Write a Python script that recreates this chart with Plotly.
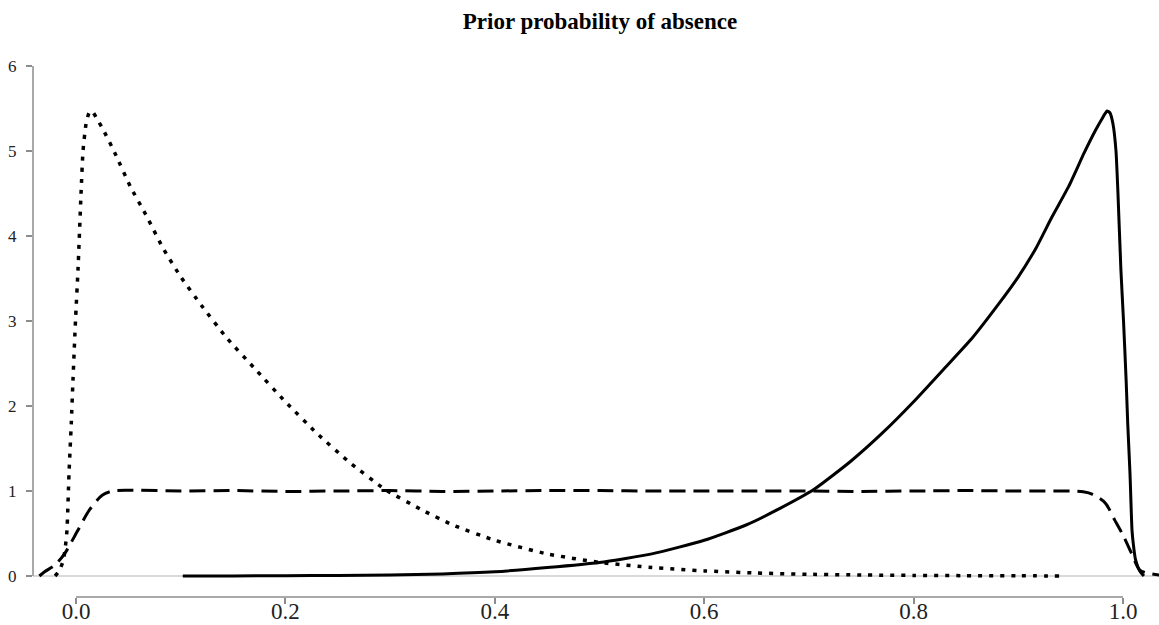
import plotly.graph_objects as go

# Density of the prior for presence-weighted absence (dotted), flat prior (dashed)
# and absence-weighted prior (solid)
dotted_x = [-0.020, -0.016, -0.012, -0.010, -0.0086, -0.0067, -0.0045, -0.0029, -0.0005,
            0.0019, 0.0048, 0.0067, 0.0096, 0.0125, 0.0153, 0.020, 0.026, 0.037, 0.052,
            0.068, 0.083, 0.100, 0.120, 0.144, 0.170, 0.200, 0.230, 0.260, 0.295,
            0.330, 0.360, 0.400, 0.450, 0.500, 0.550, 0.600, 0.650, 0.700, 0.750,
            0.800, 0.850, 0.900, 0.940]
dotted_y = [0.0, 0.06, 0.19, 0.36, 0.54, 1.2, 1.8, 2.3, 3.0,
            3.6, 4.5, 5.0, 5.32, 5.45, 5.47, 5.38, 5.25, 4.98, 4.58,
            4.22, 3.86, 3.52, 3.18, 2.80, 2.45, 2.05, 1.68, 1.35, 1.02,
            0.78, 0.60, 0.42, 0.26, 0.16, 0.10, 0.06, 0.035, 0.02, 0.012,
            0.007, 0.004, 0.002, 0.001]

dashed_x = [-0.035, -0.030, -0.020, -0.0105, 0.001, 0.013, 0.025, 0.035, 0.050, 0.100,
            0.150, 0.200, 0.250, 0.300, 0.350, 0.400, 0.450, 0.500, 0.550, 0.600,
            0.650, 0.700, 0.750, 0.800, 0.850, 0.900, 0.950, 0.962, 0.971, 0.983,
            0.992, 1.000, 1.008, 1.016, 1.023, 1.035]
dashed_y = [0.0, 0.05, 0.13, 0.27, 0.52, 0.78, 0.95, 1.00, 1.01, 1.00,
            1.005, 0.995, 1.00, 1.005, 0.995, 1.00, 1.005, 1.005, 1.00, 1.00,
            1.00, 1.00, 0.995, 1.00, 1.005, 1.00, 1.00, 0.99, 0.96, 0.86,
            0.66, 0.48, 0.27, 0.07, 0.035, 0.01]

solid_x = [0.102, 0.150, 0.200, 0.250, 0.300, 0.350, 0.400, 0.450, 0.500, 0.550,
           0.600, 0.640, 0.670, 0.705, 0.740, 0.770, 0.800, 0.830, 0.856, 0.880,
           0.900, 0.917, 0.932, 0.948, 0.963, 0.974, 0.980, 0.9847, 0.9875, 0.9904,
           0.9933, 0.9952, 0.998, 1.0005, 1.003, 1.0045, 1.0067, 1.0086, 1.010, 1.012,
           1.016, 1.020]
solid_y = [0.0, 0.001, 0.003, 0.007, 0.013, 0.025, 0.05, 0.10, 0.16, 0.26,
           0.42, 0.60, 0.78, 1.02, 1.35, 1.68, 2.05, 2.45, 2.80, 3.18,
           3.52, 3.86, 4.22, 4.58, 4.98, 5.25, 5.38, 5.47, 5.45, 5.32,
           5.0, 4.5, 3.6, 3.0, 2.3, 1.8, 1.2, 0.54, 0.36, 0.19,
           0.06, 0.0]

x_ticks = [0.0, 0.2, 0.4, 0.6, 0.8, 1.0]
x_tick_text = ["0.0", "0.2", "0.4", "0.6", "0.8", "1.0"]
y_ticks = [0, 1, 2, 3, 4, 5, 6]

AXIS_GREY = "#8c8c8c"
SERIF = "Liberation Serif"

fig = go.Figure()
fig.add_trace(go.Scatter(x=dotted_x, y=dotted_y, mode="lines",
                         line=dict(color="black", width=3.5, dash="4px,7px",
                                   shape="spline", smoothing=0.5),
                         showlegend=False))
fig.add_trace(go.Scatter(x=dashed_x, y=dashed_y, mode="lines",
                         line=dict(color="black", width=3, dash="16px,8px",
                                   shape="spline", smoothing=0.8),
                         showlegend=False))
fig.add_trace(go.Scatter(x=solid_x, y=solid_y, mode="lines",
                         line=dict(color="black", width=3, shape="spline", smoothing=0.5),
                         showlegend=False))

# R-style axes: lines only span the tick range
fig.add_shape(type="line", xref="x", yref="paper", x0=0, x1=1, y0=0, y1=0,
              line=dict(color=AXIS_GREY, width=1.5))
fig.add_shape(type="line", xref="paper", yref="y", x0=0, x1=0, y0=0, y1=6,
              line=dict(color=AXIS_GREY, width=1.5))

PX_PER_X = 1047.0
PX_PER_Y = 85.0
left_px, plot_w = 33, 1159 - 33
top_px, bottom_px = 30, 597
x0 = -(76 - left_px) / PX_PER_X
x1 = x0 + plot_w / PX_PER_X
y0 = -(bottom_px - 576) / PX_PER_Y
y1 = (576 - top_px) / PX_PER_Y

fig.update_layout(
    width=1159, height=625,
    margin=dict(l=left_px, r=0, t=top_px, b=625 - bottom_px, pad=0),
    paper_bgcolor="white", plot_bgcolor="white",
    title=dict(text="<b>Prior probability of absence</b>", xref="container", yref="container",
               x=600 / 1159, y=1 - 21 / 625, xanchor="center", yanchor="middle",
               font=dict(family=SERIF, size=23, color="black")),
    xaxis=dict(range=[x0, x1], showgrid=False, zeroline=False, showline=False,
               automargin=False,
               tickmode="array", tickvals=x_ticks, ticktext=x_tick_text,
               ticks="outside", ticklen=6, tickwidth=1.5, tickcolor=AXIS_GREY,
               ticklabelstandoff=-13,
               tickfont=dict(family=SERIF, size=23, color="#222")),
    yaxis=dict(range=[y0, y1], showgrid=False, showline=False, automargin=False,
               zeroline=True, zerolinecolor="#d9d9d9", zerolinewidth=1.5,
               tickmode="array", tickvals=y_ticks,
               ticks="outside", ticklen=6, tickwidth=1.5, tickcolor=AXIS_GREY,
               ticklabelstandoff=6,
               tickfont=dict(family=SERIF, size=17, color="#222")),
)

fig.write_html("out.html")
